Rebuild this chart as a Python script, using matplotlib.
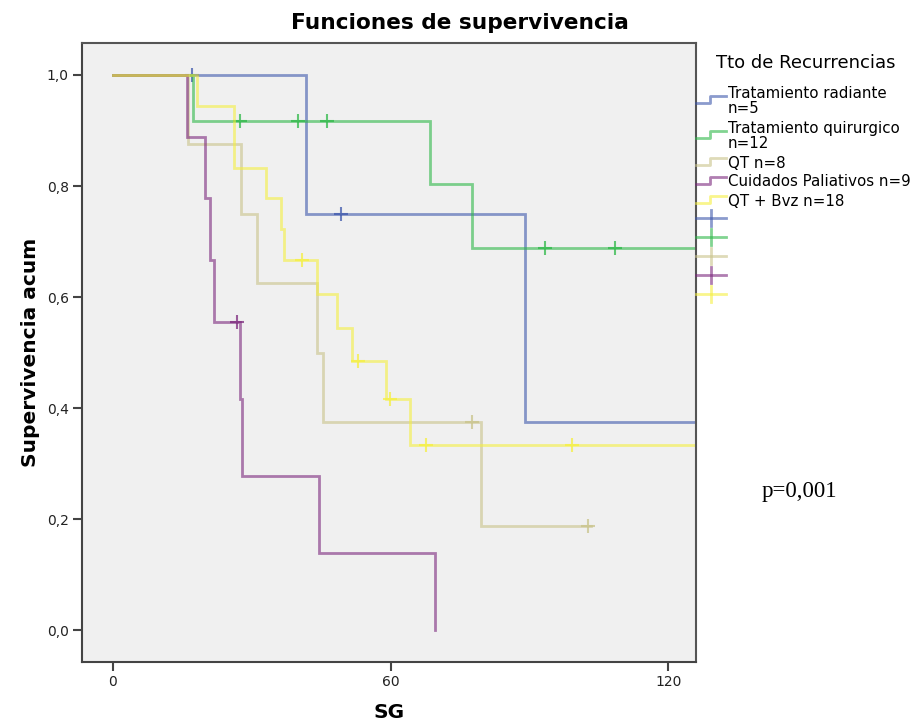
import numpy as np
import matplotlib
matplotlib.use('Agg')
import matplotlib.pyplot as plt
from matplotlib.lines import Line2D

# Datos (tiempo en meses, supervivencia acumulada)
grupos = ['Tratamiento radiante\nn=5', 'Tratamiento quirurgico\nn=12', 'QT n=8',
          'Cuidados Paliativos n=9', 'QT + Bvz n=18']

rad_t = [0, 41.8, 89.1]
rad_s = [1.0, 0.75, 0.375]
rad_cens = [17.0, 49.2]
rad_fin = 126

qui_t = [0, 17.2, 68.5, 77.7]
qui_s = [1.0, 0.917, 0.803, 0.688]
qui_cens = [27.4, 40.0, 46.3, 93.4, 108.6]
qui_fin = 126

qt_t = [0, 16.3, 27.6, 31.2, 44.1, 45.3, 79.6]
qt_s = [1.0, 0.875, 0.75, 0.625, 0.50, 0.375, 0.1875]
qt_cens = [77.7, 102.7]
qt_fin = 103.4

cp_t = [0, 16.0, 19.9, 20.9, 21.9, 27.5, 27.9, 44.5, 69.5]
cp_s = [1.0, 0.889, 0.778, 0.667, 0.556, 0.417, 0.278, 0.139, 0.0]
cp_cens = [26.8]
cp_fin = 69.5

bvz_t = [0, 18.1, 26.2, 33.0, 36.4, 37.0, 44.1, 48.5, 51.7, 59.1, 64.1]
bvz_s = [1.0, 0.944, 0.833, 0.778, 0.722, 0.667, 0.606, 0.545, 0.485, 0.416, 0.333]
bvz_cens = [40.9, 53.0, 59.8, 67.7, 99.1]
bvz_fin = 126

colores = ['#3e58ac', '#2eb848', '#c9c38a', '#7c287d', '#f5ef40']

series = [(rad_t, rad_s, rad_cens, rad_fin),
          (qui_t, qui_s, qui_cens, qui_fin),
          (qt_t, qt_s, qt_cens, qt_fin),
          (cp_t, cp_s, cp_cens, cp_fin),
          (bvz_t, bvz_s, bvz_cens, bvz_fin)]

fig = plt.figure(figsize=(9.2, 7.26), dpi=100)
ax = fig.add_axes([0.0891, 0.0882, 0.6674, 0.8526])
ax.set_facecolor('#f0f0f0')

for (t, s, cens, fin), c in zip(series, colores):
    xs = list(t) + [fin]
    ys = list(s) + [s[-1]]
    ax.step(xs, ys, where='post', color=c, lw=2, alpha=0.6, solid_joinstyle='miter')
    # marcas de censura
    idx = np.searchsorted(t, cens, side='right') - 1
    ax.plot(cens, np.array(s)[idx], ls='none', marker='+', ms=10, mew=1.5,
            color=c, alpha=0.75)

ax.set_xlim(-6.7, 126)
ax.set_ylim(-0.0567, 1.0576)
ax.set_xticks([0, 60, 120])
ax.set_yticks([0, 0.2, 0.4, 0.6, 0.8, 1.0])
ax.set_yticklabels(['0,0', '0,2', '0,4', '0,6', '0,8', '1,0'])
ax.tick_params(direction='out', length=6.5, width=1.5, color='#444444',
               labelsize=10, labelcolor='#222222', pad=3)
for lado in ['top', 'right']:
    ax.spines[lado].set_color('#555555')
    ax.spines[lado].set_linewidth(1.5)
for lado in ['left', 'bottom']:
    ax.spines[lado].set_color('#444444')
    ax.spines[lado].set_linewidth(1.5)

ax.set_xlabel('SG', fontsize=14.5, fontweight='bold', labelpad=10)
ax.set_ylabel('Supervivencia acum', fontsize=14.5, fontweight='bold', labelpad=5)
fig.suptitle('Funciones de supervivencia', fontsize=15.6, fontweight='bold', y=0.982)

# Leyenda dibujada a mano (estilo SPSS)
W, H = 920.0, 726.0
fig.text(716 / W, 1 - 63 / H, 'Tto de Recurrencias', fontsize=13, va='center', ha='left')
filas_y = [100, 135, 162, 181, 200]
texto_y = [101, 136, 163, 182, 201]
for nombre, c, fy, ty in zip(grupos, colores, filas_y, texto_y):
    xs = np.array([696, 710, 710, 726]) / W
    ys = 1 - np.array([fy + 3, fy + 3, fy - 4, fy - 4]) / H
    fig.add_artist(Line2D(xs, ys, color=c, lw=2, alpha=0.6, transform=fig.transFigure))
    fig.text(728 / W, 1 - ty / H, nombre, fontsize=10.8, va='center', ha='left',
             linespacing=1.0)
cruz_y = [218, 237, 256, 275, 294]
for c, cy in zip(colores, cruz_y):
    fig.add_artist(Line2D(np.array([696, 726]) / W, [1 - cy / H] * 2, color=c, lw=2,
                          alpha=0.6, transform=fig.transFigure))
    fig.add_artist(Line2D([711 / W] * 2, 1 - np.array([cy - 8, cy + 8]) / H, color=c,
                          lw=2, alpha=0.6, transform=fig.transFigure))

fig.text(799 / W, 1 - 492 / H, 'p=0,001', fontsize=16.5, family='Liberation Serif',
         ha='center', va='center')

fig.savefig('out.png', dpi=100)
